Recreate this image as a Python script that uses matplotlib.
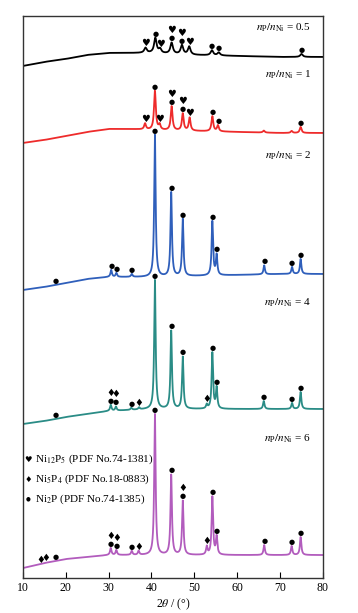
#XRD patterns of nickel phosphide samples at different P/Ni ratios
import numpy as np
import matplotlib.pyplot as plt

plt.rcParams['font.family'] = ['Liberation Serif', 'DejaVu Serif']
plt.rcParams['mathtext.fontset'] = 'stix'

#ratio labels and colours, top to bottom
ratios = ['0.5', '1', '2', '4', '6']
colors = ['#000000', '#ee2b2b', '#2f5fbb', '#2a8c86', '#b25cbd']

#baseline knots (2theta, intensity) for every pattern
base_tt = [10, 15, 20, 25, 30, 35, 40, 50, 60, 70, 80]
base_y = [
    [512, 516, 519, 523, 525, 525, 525, 523, 522, 521, 521],
    [435, 438, 442, 446, 449, 449, 448, 447, 446, 445, 445],
    [288, 291, 295, 299, 301, 301, 301, 302, 303, 304, 304],
    [154, 157, 161, 164, 167, 168, 169, 169, 169, 169, 169],
    [10, 15, 19, 21, 23, 23, 23, 23, 23, 23, 23],
]

#peak positions and heights above baseline
peak_tt = [
    [38.6, 40.9, 42.0, 44.7, 47.1, 48.8, 54.1, 55.7, 75.0],
    [38.5, 40.8, 41.9, 44.7, 47.3, 48.9, 54.2, 55.5, 66.2, 72.7, 74.8],
    [30.6, 31.8, 35.4, 40.8, 44.6, 47.3, 54.2, 55.2, 66.3, 72.8, 74.8],
    [30.5, 31.7, 35.3, 37.1, 40.8, 44.6, 47.3, 52.9, 54.2, 55.2, 66.2, 72.8, 74.8],
    [30.5, 31.8, 35.4, 37.0, 40.8, 44.6, 47.3, 52.9, 54.2, 55.2, 66.3, 72.7, 74.8],
]
peak_h = [
    [5, 15, 4, 11, 9, 8, 5, 3, 3],
    [6, 39, 5, 24, 17, 13, 15, 6, 2, 2, 6],
    [7, 4, 3, 142, 84, 57, 54, 20, 9, 7, 15],
    [6, 4, 2, 2, 129, 78, 52, 4, 56, 21, 8, 6, 17],
    [7, 5, 4, 4, 141, 80, 54, 8, 58, 18, 10, 9, 18],
]
peak_w = [0.35, 0.25, 0.2, 0.2, 0.2]

#phase markers (2theta, phase), listed bottom to top where they stack
# h = Ni12P5, d = Ni5P4, o = Ni2P
marks = [
    [(38.6, 'h'), (40.9, 'o'), (42.0, 'h'), (44.7, 'o'), (44.7, 'h'),
     (47.1, 'o'), (47.1, 'h'), (48.8, 'h'), (54.1, 'o'), (55.7, 'o'), (75.0, 'o')],
    [(38.5, 'h'), (40.8, 'o'), (41.9, 'h'), (44.7, 'o'), (44.7, 'h'),
     (47.3, 'o'), (47.3, 'h'), (48.9, 'h'), (54.2, 'o'), (55.6, 'o'), (74.8, 'o')],
    [(17.7, 'o'), (30.6, 'o'), (31.8, 'o'), (35.4, 'o'), (40.8, 'o'), (44.6, 'o'),
     (47.3, 'o'), (54.2, 'o'), (55.3, 'o'), (66.3, 'o'), (72.8, 'o'), (74.9, 'o')],
    [(17.7, 'o'), (30.5, 'o'), (30.5, 'd'), (31.7, 'o'), (31.7, 'd'), (35.3, 'o'),
     (37.1, 'd'), (40.8, 'o'), (44.6, 'o'), (47.3, 'o'), (52.9, 'd'), (54.2, 'o'),
     (55.3, 'o'), (66.2, 'o'), (72.8, 'o'), (74.9, 'o')],
    [(14.1, 'd'), (15.4, 'd'), (17.7, 'o'), (30.5, 'o'), (30.5, 'd'), (31.8, 'o'),
     (31.8, 'd'), (35.4, 'o'), (37.0, 'd'), (40.8, 'o'), (44.6, 'o'), (47.3, 'o'),
     (47.3, 'd'), (52.9, 'd'), (54.2, 'o'), (55.3, 'o'), (66.3, 'o'), (72.7, 'o'),
     (74.8, 'o')],
]

legend_names = [r'Ni$_{12}$P$_5$ (PDF No.74-1381)',
                r'Ni$_5$P$_4$ (PDF No.18-0883)',
                r'Ni$_2$P (PDF No.74-1385)']
symbols = {'h': '\u2665', 'd': '\u2666', 'o': '\u25cf'}
sym_size = {'h': 7, 'd': 7, 'o': 5}

tt = np.linspace(10, 80, 4000)


def pattern(i):
    '''Baseline plus Lorentzian peaks for pattern i'''
    y = np.interp(tt, base_tt, base_y[i])
    for c, h in zip(peak_tt[i], peak_h[i]):
        y = y + h / (1 + ((tt - c) / peak_w[i]) ** 2)
    return y


fig = plt.figure(figsize=(3.58, 6.13), dpi=100)
ax = fig.add_axes([0.064, 0.057, 0.838, 0.917])

label_y = [550, 503, 422, 275, 139]

for i in range(len(ratios)):
    y = pattern(i)
    ax.plot(tt, y, color=colors[i], lw=1.3)
    #markers sit just above the local maximum
    count = {}
    for c, ph in marks[i]:
        k = count.get(c, 0)
        count[c] = k + 1
        win = (tt > c - 0.3) & (tt < c + 0.3)
        top = y[win].max() + 4 + 8 * k
        ax.text(c, top, symbols[ph], fontsize=sym_size[ph], ha='center', va='center',
                family='DejaVu Sans', color='black')
    ax.text(77.2, label_y[i], r'$n_\mathrm{P}/n_\mathrm{Ni}$ = ' + ratios[i],
            fontsize=8, ha='right', va='center')

#phase legend
for j, ph in enumerate(['h', 'd', 'o']):
    ax.text(11.2, 119 - 20 * j, symbols[ph], fontsize=sym_size[ph] - 1,
            ha='center', va='center', family='DejaVu Sans')
    ax.text(12.9, 119 - 20 * j, legend_names[j], fontsize=8, ha='left', va='center')

ax.set_xlim(10, 80)
ax.set_ylim(0, 562)
ax.set_xticks(np.arange(10, 81, 10))
ax.set_yticks([])
ax.tick_params(axis='x', direction='in', length=4, labelsize=8.5, pad=3)
ax.set_xlabel(r'2$\theta$ / (°)', fontsize=8.5, labelpad=2)
for s in ax.spines.values():
    s.set_color('#333333')
    s.set_linewidth(1.0)

plt.savefig('out.png', dpi=100)
